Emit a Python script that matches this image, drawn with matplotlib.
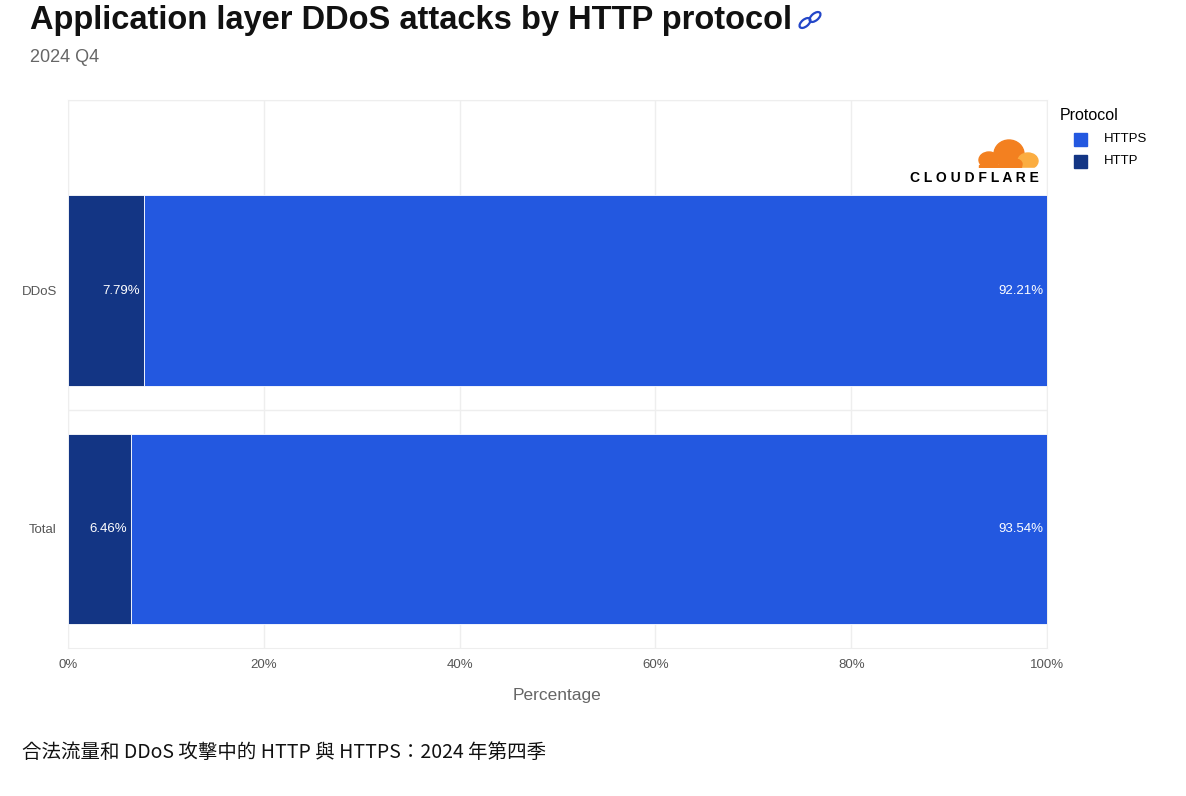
import matplotlib
matplotlib.use("Agg")
import matplotlib.pyplot as plt
from matplotlib.patches import Ellipse, Rectangle

plt.rcParams["font.family"] = ["Liberation Sans"]

categories = ["DDoS", "Total"]
http_vals = [7.79, 6.46]
https_vals = [92.21, 93.54]
xticks = [0, 20, 40, 60, 80, 100]

C_HTTPS = "#2358e0"
C_HTTP = "#133584"

W, H = 1186, 796
fig = plt.figure(figsize=(W/100, H/100), dpi=100)
ax = fig.add_axes([68/W, 1-648/H, 979/W, 548/H])
y = list(range(len(categories)))
ax.barh(y, http_vals, height=0.8, color=C_HTTP, edgecolor="white", linewidth=0.6, zorder=3)
ax.barh(y, https_vals, left=http_vals, height=0.8, color=C_HTTPS, edgecolor="white", linewidth=0.6, zorder=3)
for yi, h, s in zip(y, http_vals, https_vals):
    ax.text(h - 0.4, yi, f"{h:.2f}%", ha="right", va="center", color="white", fontsize=9.5, zorder=4)
    ax.text(h + s - 0.4, yi, f"{s:.2f}%", ha="right", va="center", color="white", fontsize=9.5, zorder=4)
ax.set_xlim(0, 100)
ax.set_ylim(1.5, -0.8)
ax.set_yticks(y)
ax.set_yticklabels(categories, fontsize=9.5, color="#555555")
ax.set_xticks(xticks)
ax.set_xticklabels([f"{t}%" for t in xticks], fontsize=9.5, color="#555555")
ax.tick_params(length=0, pad=8)
ax.grid(axis="x", color="#eeeeee", lw=1, zorder=0)
for yl in [0.5, -0.8]:
    ax.axhline(yl, color="#eeeeee", lw=1, zorder=0)
for sp in ax.spines.values():
    sp.set_color("#eeeeee")
ax.set_xlabel("Percentage", fontsize=12.5, color="#666666", labelpad=12)

fig.text(30/W, 1-20/H, "Application layer DDoS attacks by HTTP protocol", fontsize=23.5,
         fontweight="bold", va="center", ha="left", color="#111111")
fig.text(30/W, 1-57/H, "2024 Q4", fontsize=13, color="#666666", va="center")
fig.text(22/W, 1-752/H, "合法流量和 DDoS 攻擊中的 HTTP 與 HTTPS：2024 年第四季", fontsize=14,
         family=["Noto Sans CJK JP", "Noto Sans CJK TC", "Noto Sans CJK SC"], va="center", color="#111111")

# link icon
lax = fig.add_axes([796/W, 1-32/H, 28/W, 24/H]); lax.axis("off")
lax.set_xlim(0, 28); lax.set_ylim(0, 24)
for cx, cy in [(9, 9), (19, 15)]:
    lax.add_patch(Ellipse((cx, cy), 13, 7, angle=40, fill=False, ec="#2346c8", lw=1.6))

# legend
fig.text(1060/W, 1-116/H, "Protocol", fontsize=11.5, va="center")
for i, (lab, c) in enumerate([("HTTPS", C_HTTPS), ("HTTP", C_HTTP)]):
    yy = 139 + 22*i
    fig.patches.append(Rectangle((1074/W, 1-(yy+7)/H), 13/W, 13/H, transform=fig.transFigure, color=c))
    fig.text(1104/W, 1-yy/H, lab, fontsize=9.5, va="center")

# logo (pixel coords)
gax = fig.add_axes([975/W, 1-168/H, 64/W, 32/H]); gax.axis("off")
gax.set_xlim(0, 64); gax.set_ylim(0, 32)
gax.add_patch(Ellipse((34, 14), 30, 28, color="#f38020"))
gax.add_patch(Ellipse((14, 8), 20, 16, color="#f38020"))
gax.add_patch(Ellipse((53, 7), 20, 16, color="#fbad41"))
gax.add_patch(Ellipse((40, 4), 14, 10, color="#f38020"))
gax.add_patch(Rectangle((0, -10), 64, 10, color="white"))
gax.add_patch(Rectangle((4, 0), 42, 3, color="#f38020"))
fig.text(974/W, 1-178/H, "C L O U D F L A R E", fontsize=10, fontweight="bold", ha="center", va="center")

fig.savefig("out.png", dpi=100, facecolor="white")
